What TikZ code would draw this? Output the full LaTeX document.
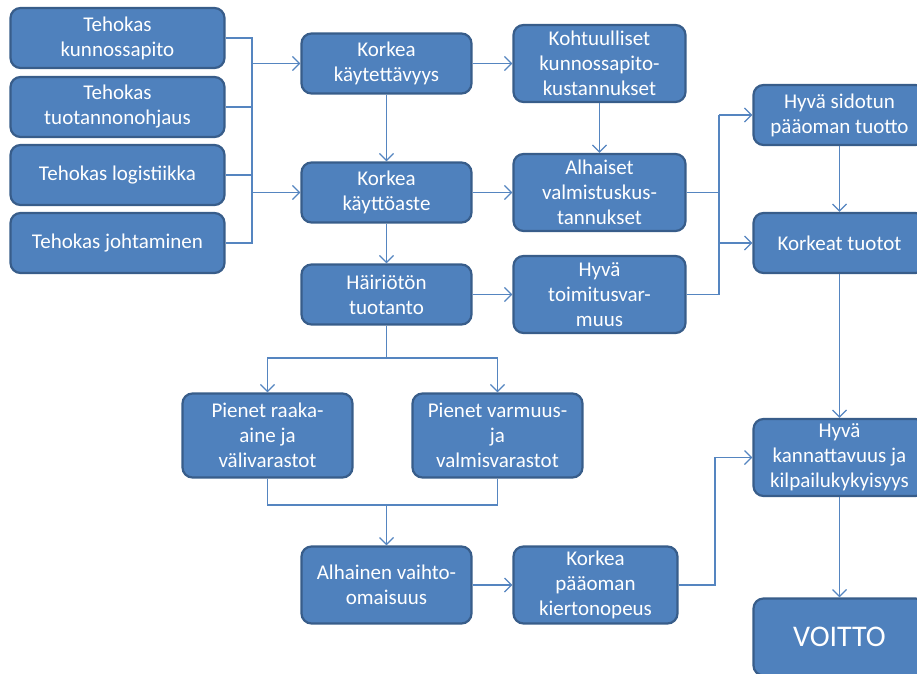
\documentclass[tikz,border=0pt]{standalone}
\usepackage{fontspec}
\setmainfont{Carlito}
\usepackage{tikz}
\usetikzlibrary{arrows.meta}
\definecolor{boxfill}{HTML}{4F81BD}
\definecolor{boxedge}{HTML}{385D8A}
\definecolor{linkblue}{HTML}{5585C0}

\begin{document}
\begin{tikzpicture}[
  x=1pt, y=-1pt,
  box/.style={draw=boxedge, fill=boxfill, line width=2.2pt, rounded corners=10pt,
    text=white, align=center, inner sep=2pt, font=\fontsize{21}{25}\selectfont},
  leftbox/.style={box, minimum width=214pt, minimum height=60pt},
  midbox/.style={box, minimum width=170pt, minimum height=60pt},
  tallbox/.style={box, minimum width=172pt, minimum height=77pt},
  link/.style={draw=linkblue, line width=1.3pt},
  arr/.style={link, -{Straight Barb[length=7pt,width=14pt]}},
]
\useasboundingbox (0,0) rectangle (917,673);
\clip (0,0) rectangle (917,673);

% --- Left column: means ---
\node[leftbox] (kp) at (117.5,38)  {Tehokas\\kunnossapito};
\node[leftbox] (to) at (117.5,107) {Tehokas\\tuotannonohjaus};
\node[leftbox] (lo) at (117.5,175) {Tehokas logistiikka};
\node[leftbox] (jo) at (117.5,243) {Tehokas johtaminen};

% --- Middle column ---
\node[midbox] (kk) at (386.5,63.5)  {Korkea\\käytettävyys};
\node[midbox] (ka) at (386.5,192.5) {Korkea\\käyttöaste};
\node[midbox] (ht) at (386.5,294.5) {Häiriötön\\tuotanto};

\node[tallbox] (kohtu) at (599.5,63.5) {Kohtuulliset\\kunnossapito-\\kustannukset};
\node[tallbox] (alh)   at (599.5,192.5) {Alhaiset\\valmistuskus-\\tannukset};
\node[tallbox] (hyt)   at (599.5,294.5) {Hyvä\\toimitusvar-\\muus};

% --- Stocks ---
\node[midbox, minimum height=84pt] (pr) at (267.5,435.5) {Pienet raaka-\\aine ja\\välivarastot};
\node[midbox, minimum height=84pt] (pv) at (497.5,435.5) {Pienet varmuus-\\ja\\valmisvarastot};
\node[tallbox, minimum width=170pt] (av) at (386.5,585) {Alhainen vaihto-\\omaisuus};
\node[tallbox, minimum width=164pt] (kpk) at (595.5,585) {Korkea\\pääoman\\kiertonopeus};

% --- Right column: results ---
\node[midbox, minimum width=172pt] (hsp) at (839.5,115) {Hyvä sidotun\\pääoman tuotto};
\node[midbox, minimum width=172pt] (kt)  at (839.5,243) {Korkeat tuotot};
\node[tallbox] (hk) at (839.5,457.5) {Hyvä\\kannattavuus ja\\kilpailukykyisyys};
\node[tallbox, font=\fontsize{30}{34}\selectfont] (voitto) at (839.5,637) {VOITTO};

% junctions
\coordinate (bl) at (252,0);
\coordinate (jr) at (719,0);
\coordinate (jk) at (715,0);
\coordinate (js) at (386.5,358);
\coordinate (jb) at (386.5,505);

% --- Bracket from the left column ---
\draw[link] (kp.east) -| (bl |- jo.east) -- (jo.east);
\draw[link] (to.east) -- (to.east -| bl);
\draw[link] (lo.east) -- (lo.east -| bl);
\draw[arr] (bl |- kk.west) -- (kk.west);
\draw[arr] (bl |- ka.west) -- (ka.west);

% --- Middle links ---
\draw[arr] (kk.east) -- (kohtu.west);
\draw[arr] (kk.south) -- (ka.north);
\draw[arr] (ka.east) -- (alh.west);
\draw[arr] (ka.south) -- (ht.north);
\draw[arr] (ht.east) -- (hyt.west);
\draw[arr] (kohtu.south) -- (alh.north);

% --- To the right column ---
\draw[link] (alh.east) -- (alh.east -| jr);
\draw[link] (hyt.east) -| (jr |- hsp.west);
\draw[arr] (jr |- hsp.west) -- (hsp.west);
\draw[arr] (jr |- kt.west) -- (kt.west);
\draw[arr] (hsp.south) -- (kt.north);
\draw[arr] (kt.south) -- (hk.north);
\draw[arr] (hk.south) -- (voitto.north);

% --- Stocks branch ---
\draw[link] (ht.south) -- (js);
\draw[arr] (js) -| (pr.north);
\draw[arr] (js) -| (pv.north);
\draw[link] (pr.south) |- (jb) -| (pv.south);
\draw[arr] (jb) -- (av.north);
\draw[arr] (av.east) -- (kpk.west);
\draw[arr] (kpk.east) -| (jk |- hk.west) -- (hk.west);

\end{tikzpicture}
\end{document}
